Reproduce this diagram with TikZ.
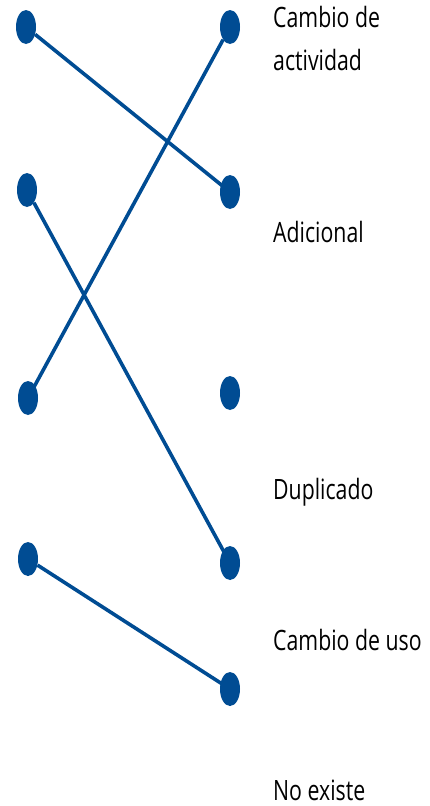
\documentclass[tikz,border=0pt]{standalone}
\usepackage{fontspec}
\setmainfont{Open Sans}[FakeStretch=0.76]
\usepackage{tikz}
\usetikzlibrary{
    shapes.geometric,
    positioning
}
\definecolor{dotblue}{RGB}{0,76,147}
\tikzstyle{dot} = [
    ellipse,
    fill=dotblue,
    inner sep=0pt,
    minimum width=20pt,
    minimum height=34pt
]
\tikzstyle{label} = [
    anchor=base west,
    inner sep=0pt,
    align=left,
    font=\fontsize{28}{43}\selectfont
]
\tikzstyle{link} = [
    line width=3.6pt,
    draw=dotblue,
    shorten >=-5pt
]
\begin{document}
\begin{tikzpicture}[x=1pt, y=-1pt]
        \useasboundingbox (0, 0) rectangle (429, 806);

        % Left dots
        \node[dot] (l1) at (26, 27) {};
        \node[dot] (l2) at (27, 190) {};
        \node[dot] (l3) at (28, 398) {};
        \node[dot] (l4) at (28, 559) {};

        % Right dots
        \node[dot] (r1) at (230, 27) {};
        \node[dot] (r2) at (230, 192) {};
        \node[dot] (r3) at (230, 393) {};
        \node[dot] (r4) at (230, 563) {};
        \node[dot] (r5) at (230, 689) {};

        % Labels (base anchor sits on the last line)
        \node[label] (act) at (273, 70) {Cambio de\\actividad};
        \node[label] (adi) at (273, 242) {Adicional};
        \node[label] (dup) at (273, 499) {Duplicado};
        \node[label] (uso) at (273, 650) {Cambio de uso};
        \node[label] (noe) at (273, 800) {No existe};

        % Links
        \draw[link] (l1) -- (r2);
        \draw[link] (l2) -- (r4);
        \draw[link] (r1) -- (l3);
        \draw[link] (l4) -- (r5);
    \end{tikzpicture}
\end{document}
